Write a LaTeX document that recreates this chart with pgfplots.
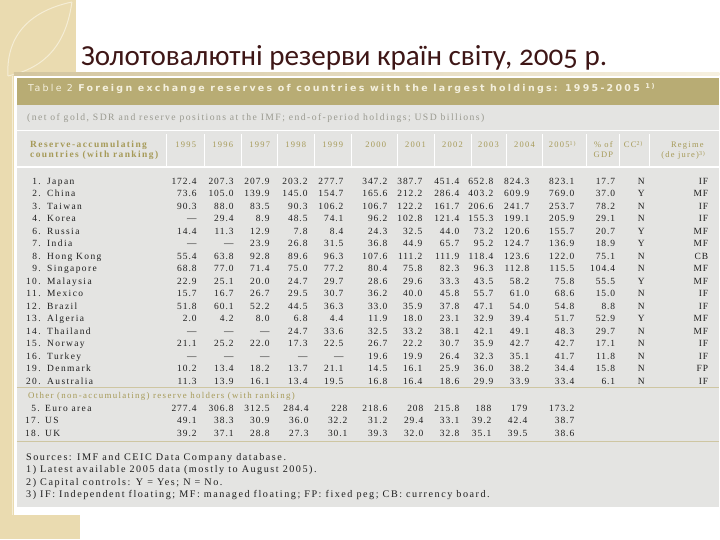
\documentclass[border=0pt]{standalone}
\usepackage{pgfplots}
\pgfplotsset{compat=1.18}
\usepackage{pgfplotstable}
\usepackage{fontspec}
\setmainfont{Liberation Serif}
\newfontfamily\lsp[LetterSpace=15]{Liberation Serif}
\newfontfamily\lspn[LetterSpace=10]{Liberation Serif}
\newfontfamily\ttl[Numbers=OldStyle]{Carlito}
\newfontfamily\hdr[LetterSpace=24]{DejaVu Sans}

\definecolor{beige}{HTML}{EADBB0}
\definecolor{beigelt}{HTML}{F5EDD5}
\definecolor{band}{HTML}{B8AC74}
\definecolor{bandtxt}{HTML}{F4F0DE}
\definecolor{bodybg}{HTML}{E4E4E2}
\definecolor{olive}{HTML}{A69A58}
\definecolor{subgray}{HTML}{9A9A90}
\definecolor{ink}{HTML}{1E1E1E}
\definecolor{ttlc}{HTML}{3E1616}
\definecolor{rule}{HTML}{CEC6A2}

% reserve-accumulating countries, USD billions
\pgfplotstableread[col sep=comma]{
rank,name,a95,a96,a97,a98,a99,a00,a01,a02,a03,a04,a05,gdp,cc,reg
1.,Japan,172.4,207.3,207.9,203.2,277.7,347.2,387.7,451.4,652.8,824.3,823.1,17.7,N,IF
2.,China,73.6,105.0,139.9,145.0,154.7,165.6,212.2,286.4,403.2,609.9,769.0,37.0,Y,MF
3.,Taiwan,90.3,88.0,83.5,90.3,106.2,106.7,122.2,161.7,206.6,241.7,253.7,78.2,N,IF
4.,Korea,—,29.4,8.9,48.5,74.1,96.2,102.8,121.4,155.3,199.1,205.9,29.1,N,IF
6.,Russia,14.4,11.3,12.9,7.8,8.4,24.3,32.5,44.0,73.2,120.6,155.7,20.7,Y,MF
7.,India,—,—,23.9,26.8,31.5,36.8,44.9,65.7,95.2,124.7,136.9,18.9,Y,MF
8.,Hong Kong,55.4,63.8,92.8,89.6,96.3,107.6,111.2,111.9,118.4,123.6,122.0,75.1,N,CB
9.,Singapore,68.8,77.0,71.4,75.0,77.2,80.4,75.8,82.3,96.3,112.8,115.5,104.4,N,MF
10.,Malaysia,22.9,25.1,20.0,24.7,29.7,28.6,29.6,33.3,43.5,58.2,75.8,55.5,Y,MF
11.,Mexico,15.7,16.7,26.7,29.5,30.7,36.2,40.0,45.8,55.7,61.0,68.6,15.0,N,IF
12.,Brazil,51.8,60.1,52.2,44.5,36.3,33.0,35.9,37.8,47.1,54.0,54.8,8.8,N,IF
13.,Algeria,2.0,4.2,8.0,6.8,4.4,11.9,18.0,23.1,32.9,39.4,51.7,52.9,Y,MF
14.,Thailand,—,—,—,24.7,33.6,32.5,33.2,38.1,42.1,49.1,48.3,29.7,N,MF
15.,Norway,21.1,25.2,22.0,17.3,22.5,26.7,22.2,30.7,35.9,42.7,42.7,17.1,N,IF
16.,Turkey,—,—,—,—,—,19.6,19.9,26.4,32.3,35.1,41.7,11.8,N,IF
19.,Denmark,10.2,13.4,18.2,13.7,21.1,14.5,16.1,25.9,36.0,38.2,34.4,15.8,N,FP
20.,Australia,11.3,13.9,16.1,13.4,19.5,16.8,16.4,18.6,29.9,33.9,33.4,6.1,N,IF
}\mainT

% other (non-accumulating) holders
\pgfplotstableread[col sep=comma]{
rank,name,a95,a96,a97,a98,a99,a00,a01,a02,a03,a04,a05
5.,Euro area,277.4,306.8,312.5,284.4,228,218.6,208,215.8,188,179,173.2
17.,US,49.1,38.3,30.9,36.0,32.2,31.2,29.4,33.1,39.2,42.4,38.7
18.,UK,39.2,37.1,28.8,27.3,30.1,39.3,32.0,32.8,35.1,39.5,38.6
}\otherT

% #1 table, #2 first baseline, #3 column, #4 x, #5 anchor, #6 font
\newcommand\datcol[6]{%
  \addplot[draw=none, mark=none, nodes near coords, point meta=explicit symbolic,
    every node near coord/.append style={anchor=#5, inner sep=0pt, text=ink, font=#6}]
    table[x expr=#4, y expr={#2+12.5*\coordindex}, meta=#3] {#1};}

\newcommand\tf{\lspn\fontsize{9.5}{10}\selectfont}
\newcommand\nf{\lsp\fontsize{9.5}{10}\selectfont}
\newcommand\hf{\lsp\fontsize{8.5}{10}\selectfont}
\newcommand\sep[1]{\draw[white, line width=0.8bp] (#1,134) -- (#1,167);}
\newcommand\hd[3]{\node[anchor=base, inner sep=0pt, text=olive, font=\hf] at (#1,#2) {#3};}

\begin{document}
\begin{tikzpicture}
\begin{axis}[
    scale only axis,
    width=720bp, height=540bp,
    xmin=0, xmax=720, ymin=0, ymax=540,
    y dir=reverse,
    hide axis,
    clip=false,
]
% slide background and decoration
\fill[white] (0,0) rectangle (720,540);
\fill[beige] (0,0) rectangle (76,76);
\fill[beige] (0,0) rectangle (14,540);
\fill[beige] (0,515) rectangle (80,540);
\draw[beigelt, line width=1bp] (72,2) .. controls (25,12) and (6,40) .. (8,76);
\draw[beigelt, line width=1bp] (72,2) .. controls (66,45) and (45,68) .. (8,76);
\draw[beigelt, line width=0.8bp] (12,76) -- (12,515);
\shade[left color=beige!90!black, right color=beige!40] (14,72.5) rectangle (720,75.5);

% title
\node[anchor=base west, font=\ttl\fontsize{29.2}{32}\selectfont, text=ttlc, inner sep=0pt]
  at (81,66) {Золотовалютні резерви країн світу, 2005 р.};

% table body
\fill[bodybg] (17,78) rectangle (720,507);
\fill[band] (17,78) rectangle (720,105);
\node[anchor=base west, inner sep=0pt, text=bandtxt, font=\hdr\fontsize{9.5}{11}\selectfont]
  at (28,92) {Table 2 \bfseries Foreign exchange reserves of countries with the largest holdings: 1995-2005 \textsuperscript{1)}};
\node[anchor=base west, inner sep=0pt, text=subgray, font=\lsp\fontsize{9.7}{11}\selectfont]
  at (27,121) {(net of gold, SDR and reserve positions at the IMF; end-of-period holdings; USD billions)};

\draw[white, line width=1bp] (17,131) -- (720,131);
\draw[white, line width=1.4bp] (17,167) -- (720,167);
\sep{167}\sep{205}\sep{242}\sep{278}\sep{315}\sep{352}\sep{398}
\sep{435}\sep{472}\sep{507}\sep{543}\sep{587}\sep{620}\sep{650}

% header row
\node[anchor=base west, inner sep=0pt, text=olive, font=\lsp\bfseries\fontsize{9.5}{11}\selectfont] at (30,148) {Reserve-accumulating};
\node[anchor=base west, inner sep=0pt, text=olive, font=\lsp\bfseries\fontsize{9.5}{11}\selectfont] at (30,158) {countries (with ranking)};
\hd{186}{148}{1995}\hd{223}{148}{1996}\hd{260}{148}{1997}\hd{296}{148}{1998}
\hd{333}{148}{1999}\hd{376}{148}{2000}\hd{416}{148}{2001}\hd{453}{148}{2002}
\hd{489}{148}{2003}\hd{525}{148}{2004}
\hd{563}{148}{2005\textsuperscript{1)}}
\hd{604}{148}{\% of}\hd{604}{158}{GDP}
\hd{634}{148}{CC\textsuperscript{2)}}
\hd{688}{148}{Regime}\hd{684}{158}{(de jure)\textsuperscript{3)}}

% reserve-accumulating rows
\datcol{\mainT}{184.5}{rank}{41}{base east}{\nf}
\datcol{\mainT}{184.5}{name}{47}{base west}{\nf}
\datcol{\mainT}{184.5}{a95}{197}{base east}{\tf}
\datcol{\mainT}{184.5}{a96}{234}{base east}{\tf}
\datcol{\mainT}{184.5}{a97}{270}{base east}{\tf}
\datcol{\mainT}{184.5}{a98}{308}{base east}{\tf}
\datcol{\mainT}{184.5}{a99}{344}{base east}{\tf}
\datcol{\mainT}{184.5}{a00}{388}{base east}{\tf}
\datcol{\mainT}{184.5}{a01}{423}{base east}{\tf}
\datcol{\mainT}{184.5}{a02}{460}{base east}{\tf}
\datcol{\mainT}{184.5}{a03}{494}{base east}{\tf}
\datcol{\mainT}{184.5}{a04}{530}{base east}{\tf}
\datcol{\mainT}{184.5}{a05}{575}{base east}{\tf}
\datcol{\mainT}{184.5}{gdp}{616}{base east}{\tf}
\datcol{\mainT}{184.5}{cc}{642}{base}{\tf}
\datcol{\mainT}{184.5}{reg}{709}{base east}{\tf}

% other holders
\draw[rule, line width=1bp] (17,388) -- (720,388);
\node[anchor=base west, inner sep=0pt, text=olive, font=\lsp\fontsize{8.9}{10}\selectfont] at (28,399) {Other (non-accumulating) reserve holders (with ranking)};
\datcol{\otherT}{411.5}{rank}{40}{base east}{\nf}
\datcol{\otherT}{411.5}{name}{45}{base west}{\nf}
\datcol{\otherT}{411.5}{a95}{197}{base east}{\tf}
\datcol{\otherT}{411.5}{a96}{234}{base east}{\tf}
\datcol{\otherT}{411.5}{a97}{270}{base east}{\tf}
\datcol{\otherT}{411.5}{a98}{309}{base east}{\tf}
\datcol{\otherT}{411.5}{a99}{348}{base east}{\tf}
\datcol{\otherT}{411.5}{a00}{388}{base east}{\tf}
\datcol{\otherT}{411.5}{a01}{424}{base east}{\tf}
\datcol{\otherT}{411.5}{a02}{460}{base east}{\tf}
\datcol{\otherT}{411.5}{a03}{492}{base east}{\tf}
\datcol{\otherT}{411.5}{a04}{528}{base east}{\tf}
\datcol{\otherT}{411.5}{a05}{575}{base east}{\tf}

% notes
\draw[rule, line width=1bp] (17,442) -- (720,442);
\node[anchor=base west, inner sep=0pt, text=ink, font=\lsp\fontsize{10.2}{11}\selectfont] at (26,460.5) {Sources: IMF and CEIC Data Company database.};
\node[anchor=base west, inner sep=0pt, text=ink, font=\lsp\fontsize{10.2}{11}\selectfont] at (26,472.5) {1) Latest available 2005 data (mostly to August 2005).};
\node[anchor=base west, inner sep=0pt, text=ink, font=\lsp\fontsize{10.2}{11}\selectfont] at (26,486) {2) Capital controls: Y = Yes; N = No.};
\node[anchor=base west, inner sep=0pt, text=ink, font=\lsp\fontsize{10.2}{11}\selectfont] at (26,498) {3) IF: Independent floating; MF: managed floating; FP: fixed peg; CB: currency board.};
\end{axis}
\end{tikzpicture}
\end{document}
